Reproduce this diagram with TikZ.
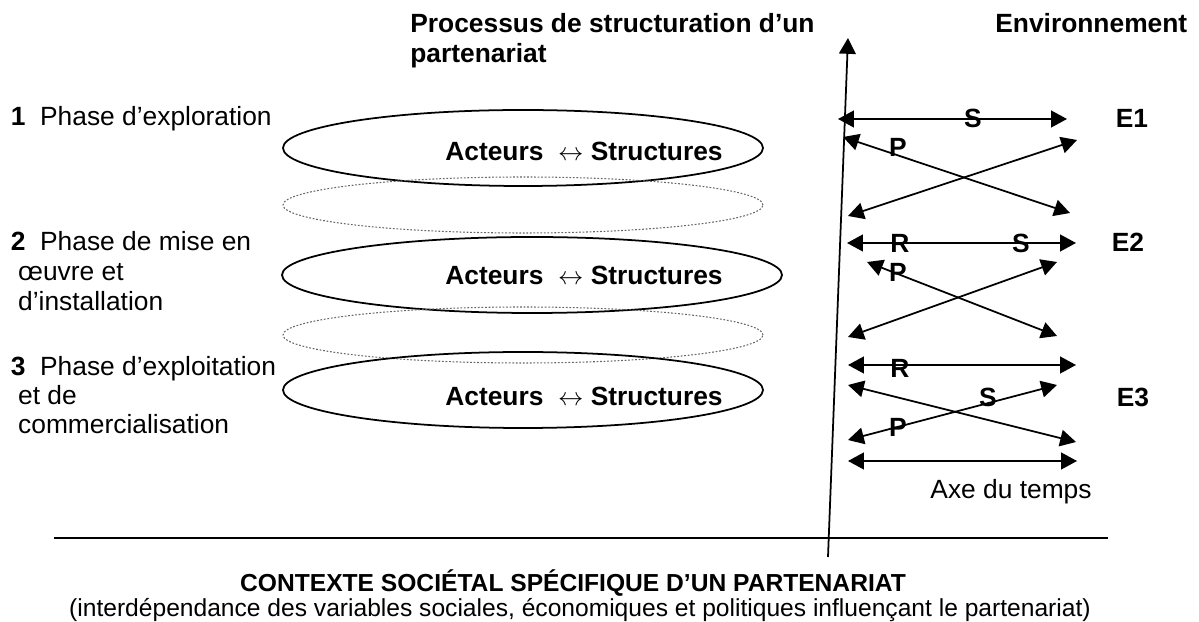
\documentclass[tikz,border=0pt]{standalone}
\usepackage{fontspec}
\setmainfont{Liberation Sans}
\usetikzlibrary{arrows.meta}
\usetikzlibrary{shapes.geometric}

\begin{document}
\begin{tikzpicture}[font=\fontsize{15}{18}\selectfont,
  >={Triangle[length=9pt,width=9.5pt]},
  bulle/.style={ellipse, draw, line width=1pt, inner sep=0pt, minimum width=9.6cm, minimum height=1.52cm},
  pointille/.style={bulle, densely dotted, line width=0.6pt, draw=black!60, minimum height=1.12cm},
  fleche/.style={<->, line width=1pt},
  lettre/.style={font=\fontsize{15}{18}\selectfont\bfseries},
  ligne/.style={anchor=base west, inner sep=0pt},
  bas/.style={anchor=base, font=\fontsize{14}{17}\selectfont}]
\useasboundingbox (0,0) rectangle (23.98,12.44);
%
\node[ligne] (proc1) at (8.20,11.78) {\bfseries Processus de structuration d’un};
\node[ligne] (proc2) at (8.20,11.18) {\bfseries partenariat};
\node[ligne] (env) at (19.90,11.78) {\bfseries Environnement};
%
\node[ligne] (ph1) at (0.21,9.92) {\textbf{1}\ \ Phase d’exploration};
\node[ligne] (ph2a) at (0.21,7.42) {\textbf{2}\ \ Phase de mise en};
\node[ligne] (ph2b) at (0.21,6.82) {\ œuvre et};
\node[ligne] (ph2c) at (0.21,6.22) {\ d’installation};
\node[ligne] (ph3a) at (0.21,4.92) {\textbf{3}\ \ Phase d’exploitation};
\node[ligne] (ph3b) at (0.21,4.34) {\ et de};
\node[ligne] (ph3c) at (0.21,3.76) {\ commercialisation};
%
\node[bulle] (ell1) at (10.46,9.48) {};
\node[pointille] (pt1) at (10.46,8.34) {};
\node[bulle, minimum width=10cm] (ell2) at (10.64,6.94) {};
\node[pointille] (pt2) at (10.46,5.74) {};
\node[bulle] (ell3) at (10.46,4.64) {};
\node[lettre] (act1) at (11.68,9.42) {Acteurs\ \ $\leftrightarrow$ Structures};
\node[lettre] (act2) at (11.68,6.94) {Acteurs\ \ $\leftrightarrow$ Structures};
\node[lettre] (act3) at (11.68,4.52) {Acteurs\ \ $\leftrightarrow$ Structures};
%
\coordinate (axb) at (16.56,1.30);
\coordinate (axh) at (16.96,11.68);
\draw[->, line width=1pt] (axb) -- (axh);
%
\coordinate (s1g) at (16.76,10.06);
\coordinate (s1d) at (21.34,10.06);
\coordinate (a1g) at (16.86,9.70);
\coordinate (a1d) at (21.40,8.18);
\coordinate (b1g) at (16.96,8.12);
\coordinate (b1d) at (21.54,9.64);
\draw[fleche] (s1g) -- (s1d);
\draw[fleche] (a1g) -- (a1d);
\draw[fleche] (b1g) -- (b1d);
\node[lettre] (S1) at (19.46,10.08) {S};
\node[lettre] (P1) at (17.96,9.50) {P};
\node[lettre] (E1) at (22.64,10.08) {E1};
%
\coordinate (rs2g) at (16.94,7.58);
\coordinate (rs2d) at (21.52,7.58);
\coordinate (a2g) at (17.34,7.20);
\coordinate (a2d) at (21.14,5.72);
\coordinate (b2g) at (16.96,5.70);
\coordinate (b2d) at (21.14,7.20);
\draw[fleche] (rs2g) -- (rs2d);
\draw[fleche] (a2g) -- (a2d);
\draw[fleche] (b2g) -- (b2d);
\node[lettre] (R2) at (18.00,7.58) {R};
\node[lettre] (S2) at (20.42,7.58) {S};
\node[lettre] (P2) at (17.96,7.00) {P};
\node[lettre] (E2) at (22.56,7.60) {E2};
%
\coordinate (r3g) at (16.96,5.14);
\coordinate (r3d) at (21.52,5.14);
\coordinate (a3g) at (16.96,4.74);
\coordinate (a3d) at (21.52,3.60);
\coordinate (b3g) at (16.96,3.64);
\coordinate (b3d) at (21.14,4.74);
\draw[fleche] (r3g) -- (r3d);
\draw[fleche] (a3g) -- (a3d);
\draw[fleche] (b3g) -- (b3d);
\node[lettre] (R3) at (18.00,5.08) {R};
\node[lettre] (S3) at (19.76,4.50) {S};
\node[lettre] (P3) at (17.96,3.90) {P};
\node[lettre] (E3) at (22.66,4.50) {E3};
%
\coordinate (tg) at (16.96,3.22);
\coordinate (td) at (21.54,3.22);
\draw[fleche] (tg) -- (td);
\node[anchor=base] (axe) at (20.22,2.46) {Axe du temps};
%
\coordinate (hg) at (1.08,1.68);
\coordinate (hd) at (22.16,1.68);
\draw[line width=1pt] (hg) -- (hd);
\node[bas] (ctx) at (11.46,0.60) {\bfseries CONTEXTE SOCIÉTAL SPÉCIFIQUE D’UN PARTENARIAT};
\node[bas] (inter) at (11.60,0.10) {(interdépendance des variables sociales, économiques et politiques influençant le partenariat)};
\end{tikzpicture}
\end{document}
